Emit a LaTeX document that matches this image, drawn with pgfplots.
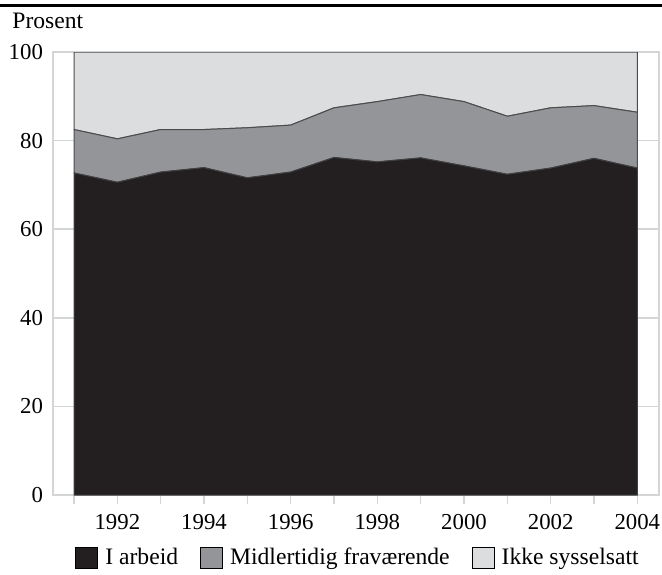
\documentclass[border=0pt]{standalone}
\usepackage{pgfplots}
\pgfplotsset{compat=1.18}
\usepackage{pgfplotstable}
\usepackage{fontspec}
\setmainfont{Liberation Serif}

\definecolor{arbeid}{HTML}{231F20}
\definecolor{frav}{HTML}{939598}
\definecolor{ikke}{HTML}{DCDDDF}
\definecolor{ramme}{HTML}{D4D5D7}

% andel i prosent, stablet
\pgfplotstableread{
year arbeid frav ikke
1991 72.7 9.8 17.5
1992 70.6 9.8 19.6
1993 72.9 9.6 17.5
1994 73.9 8.6 17.5
1995 71.6 11.3 17.1
1996 72.9 10.6 16.5
1997 76.2 11.2 12.6
1998 75.2 13.6 11.2
1999 76.1 14.3 9.6
2000 74.3 14.5 11.2
2001 72.4 13.1 14.5
2002 73.8 13.6 12.6
2003 76.0 11.9 12.1
2004 73.8 12.6 13.6
}\data

\begin{document}
\begin{tikzpicture}
\useasboundingbox (0,0) rectangle (331pt,-287pt);
\draw[line width=1.5pt] (0,-2.7pt) -- (331pt,-2.7pt);
\node[anchor=base west,inner sep=0pt,font=\fontsize{11.8}{13}\selectfont] at (6pt,-14pt) {Prosent};
\begin{axis}[
  at={(26.5pt,-247.5pt)}, anchor=south west,
  scale only axis, width=303pt, height=221.5pt,
  xmin=1990.515, xmax=2004.5, ymin=0, ymax=100,
  stack plots=y,
  axis line style={draw=ramme, line width=0.8pt},
  tick pos=left,
  xtick={1992,1994,...,2004},
  minor xtick={1991,1993,...,2003},
  x tick label style={/pgf/number format/1000 sep={}},
  xtick style={draw=ramme, line width=0.8pt},
  minor x tick style={draw=ramme, line width=0.8pt},
  tick align=outside,
  major tick length=4.5pt, minor tick length=4.5pt,
  ytick={0,20,...,100},
  ytick style={draw=none},
  ymajorgrids,
  grid style={draw=ramme, line width=0.8pt},
  yticklabel style={xshift=3pt},
  xticklabel style={yshift=-1.5pt},
  tick label style={font=\fontsize{11.4}{13}\selectfont},
  /pgf/number format/assume math mode=true,
  legend columns=3,
  legend style={at={(0.505,-0.142)}, anchor=center, draw=none, fill=none,
    font=\fontsize{11.8}{13}\selectfont,
    /tikz/every odd column/.append style={column sep=1.5pt},
    /tikz/every even column/.append style={column sep=9pt}},
  legend image code/.code={\draw[#1,draw=black,line width=0.5pt] (0pt,-5.2pt) rectangle (11pt,5.2pt);},
]
\addplot[fill=arbeid, draw=black!75, line width=0.5pt] table[x=year,y=arbeid] {\data} \closedcycle;
\addlegendentry{I arbeid}
\addplot[fill=frav, draw=black!70, line width=0.5pt] table[x=year,y=frav] {\data} \closedcycle;
\addlegendentry{Midlertidig fraværende}
\addplot[fill=ikke, draw=black!70, line width=0.5pt] table[x=year,y=ikke] {\data} \closedcycle;
\addlegendentry{Ikke sysselsatt}
\end{axis}
\end{tikzpicture}
\end{document}
